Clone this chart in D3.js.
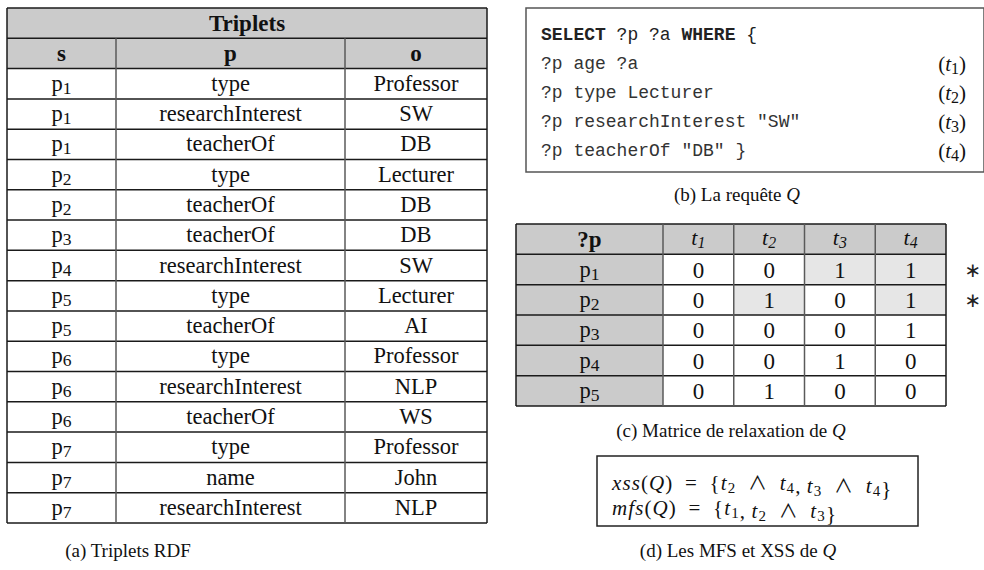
<!DOCTYPE html>
<html><head><meta charset="utf-8">
<script src="https://cdn.jsdelivr.net/npm/d3@7"></script>
<style>html,body{margin:0;padding:0;background:#fff;}svg{display:block;}</style>
</head><body>
<script>
// ---------- DATA ----------
const tripletColumns = ["s", "p", "o"];
const tripletTitle = "Triplets";
const tripletS = ["p_1","p_1","p_1","p_2","p_2","p_3","p_4","p_5","p_5","p_6","p_6","p_6","p_7","p_7","p_7"];
const tripletP = ["type","researchInterest","teacherOf","type","teacherOf","teacherOf","researchInterest","type","teacherOf","type","researchInterest","teacherOf","type","name","researchInterest"];
const tripletO = ["Professor","SW","DB","Lecturer","DB","DB","SW","Lecturer","AI","Professor","NLP","WS","Professor","John","NLP"];

const queryCode = ["?p age ?a", "?p type Lecturer", "?p researchInterest \"SW\"", "?p teacherOf \"DB\" }"];
const queryLabels = ["t_1", "t_2", "t_3", "t_4"];

const matrixCols = ["t_1", "t_2", "t_3", "t_4"];
const matrixRows = ["p_1", "p_2", "p_3", "p_4", "p_5"];
const matrixValues = [
  [0, 0, 1, 1],
  [0, 1, 0, 1],
  [0, 0, 0, 1],
  [0, 0, 1, 0],
  [0, 1, 0, 0]
];
const matrixShaded = [
  [0, 0, 1, 1],
  [0, 1, 0, 1],
  [0, 0, 0, 0],
  [0, 0, 0, 0],
  [0, 0, 0, 0]
];
const matrixStars = [1, 1, 0, 0, 0];

const xssSets = [["t_2", "t_4"], ["t_3", "t_4"]];
const mfsSets = [["t_1"], ["t_2", "t_3"]];

const captions = ["(a) Triplets RDF", "(b) La requête ", "(c) Matrice de relaxation de ", "(d) Les MFS et XSS de "];

// ---------- DRAW ----------
const W = 984, H = 570;
const svg = d3.select("body").append("svg").attr("width", W).attr("height", H);
const SERIF = "'Liberation Serif','Times New Roman',serif";
const MONO = "'Liberation Mono','Courier New',monospace";
const GRAY = "#cbcbcb", LIGHT = "#e6e6e6";
const HLINE = "#1a1a1a", VLINE = "#5a5a5a";
const CELL = 22.5;
const SYM_FONT = "'Noto Sans CJK JP','DejaVu Sans',sans-serif";

function subText(sel, str, opts) {
  const size = opts.size || CELL;
  const t = sel.append("text")
    .attr("x", opts.x).attr("y", opts.y)
    .attr("text-anchor", opts.anchor || "middle")
    .attr("font-family", opts.family || SERIF)
    .attr("font-size", size)
    .attr("font-weight", opts.weight || "normal")
    .attr("font-style", opts.italic ? "italic" : "normal")
    .attr("fill", "#111");
  const parts = str.split(/(_\d)/);
  let shifted = false;
  const dy = opts.subDy || 4;
  parts.forEach(p => {
    if (!p) return;
    if (p.startsWith("_")) {
      t.append("tspan").text(p.slice(1)).attr("dy", dy)
        .attr("font-size", size * (opts.subScale || 0.72))
        .attr("font-style", opts.subItalic ? "italic" : "normal");
      shifted = true;
    } else {
      const ts = t.append("tspan").text(p);
      if (shifted) { ts.attr("dy", -dy); shifted = false; }
    }
  });
  return t;
}

// ---- (a) Triplets table ----
const A = svg.append("g");
const aRows = d3.scaleBand().domain(d3.range(tripletS.length + 2)).range([8, 523]);
const aColX = d3.scaleOrdinal().domain(tripletColumns).range([[7, 116], [116, 345], [345, 487]]);
const aX0 = 7, aX1 = 487;
A.append("rect").attr("x", aX0).attr("y", aRows(0)).attr("width", aX1 - aX0).attr("height", aRows.bandwidth() * 2).attr("fill", GRAY);
d3.range(tripletS.length + 3).forEach(i => {
  const y = i < tripletS.length + 2 ? aRows(i) : aRows.range()[1];
  A.append("line").attr("x1", aX0).attr("x2", aX1).attr("y1", y).attr("y2", y)
    .attr("stroke", HLINE).attr("stroke-width", 1.5);
});
[aX0, aX1].forEach(x => A.append("line").attr("x1", x).attr("x2", x).attr("y1", aRows(0)).attr("y2", aRows.range()[1]).attr("stroke", HLINE).attr("stroke-width", 1.5));
[aColX("s")[1], aColX("p")[1]].forEach(x => A.append("line").attr("x1", x).attr("x2", x).attr("y1", aRows(1)).attr("y2", aRows.range()[1]).attr("stroke", VLINE).attr("stroke-width", 1.5));
subText(A, tripletTitle, {x: (aX0 + aX1) / 2, y: aRows(0) + aRows.bandwidth() / 2 + 8, weight: "bold", size: 23});
tripletColumns.forEach(c => {
  const [l, r] = aColX(c);
  subText(A, c, {x: (l + r) / 2, y: aRows(1) + aRows.bandwidth() / 2 + 8, weight: "bold", size: 23});
});
const tripletData = [tripletS, tripletP, tripletO];
tripletS.forEach((_, i) => {
  tripletColumns.forEach((c, j) => {
    const [l, r] = aColX(c);
    subText(A, tripletData[j][i], {x: (l + r) / 2, y: aRows(i + 2) + aRows.bandwidth() / 2 + 7, subDy: 3, subScale: 0.78});
  });
});
subText(A, captions[0], {x: 128, y: 557, size: 19});

// ---- (b) Query box ----
const B = svg.append("g");
B.append("rect").attr("x", 526).attr("y", 8).attr("width", 458).attr("height", 164)
  .attr("fill", "none").attr("stroke", "#555").attr("stroke-width", 1.5);
const qRows = d3.scaleBand().domain(d3.range(queryCode.length + 1)).range([20, 165]);
const q0 = B.append("text").attr("x", 541).attr("y", qRows(0) + qRows.bandwidth() / 2 + 5)
  .attr("font-family", MONO).attr("font-size", 18).attr("fill", "#222");
q0.append("tspan").text("SELECT").attr("font-weight", "bold");
q0.append("tspan").text(" ?p ?a ");
q0.append("tspan").text("WHERE").attr("font-weight", "bold");
q0.append("tspan").text(" {");
queryCode.forEach((line, i) => {
  B.append("text").attr("x", 541).attr("y", qRows(i + 1) + qRows.bandwidth() / 2 + 5)
    .attr("font-family", MONO).attr("font-size", 18).attr("fill", "#333")
    .style("white-space", "pre").text(line);
  const t = B.append("text").attr("x", 966).attr("y", qRows(i + 1) + qRows.bandwidth() / 2 + 7)
    .attr("text-anchor", "end").attr("font-family", SERIF).attr("font-size", 21).attr("fill", "#111");
  t.append("tspan").text("(");
  t.append("tspan").text("t").attr("font-style", "italic");
  t.append("tspan").text(queryLabels[i].split("_")[1]).attr("font-size", 16).attr("dy", 3);
  t.append("tspan").text(")").attr("dy", -3);
});
{
  const t = B.append("text").attr("x", 737).attr("y", 201).attr("text-anchor", "middle")
    .attr("font-family", SERIF).attr("font-size", 19).attr("fill", "#111");
  t.append("tspan").text(captions[1]);
  t.append("tspan").text("Q").attr("font-style", "italic");
}

// ---- (c) Relaxation matrix ----
const C = svg.append("g");
const cRows = d3.scaleBand().domain(d3.range(matrixRows.length + 1)).range([224, 406]);
const cCols = d3.scaleBand().domain(matrixCols).range([663, 946]);
const cX0 = 516, cX1 = 946;
C.append("rect").attr("x", cX0).attr("y", cRows(0)).attr("width", cX1 - cX0).attr("height", cRows.bandwidth()).attr("fill", GRAY);
C.append("rect").attr("x", cX0).attr("y", cRows(0)).attr("width", cCols.range()[0] - cX0).attr("height", cRows.range()[1] - cRows(0)).attr("fill", GRAY);
matrixRows.forEach((r, i) => {
  matrixCols.forEach((c, j) => {
    if (matrixShaded[i][j]) C.append("rect").attr("x", cCols(c)).attr("y", cRows(i + 1))
      .attr("width", cCols.bandwidth()).attr("height", cRows.bandwidth()).attr("fill", LIGHT);
  });
});
d3.range(matrixRows.length + 2).forEach(i => {
  const y = i <= matrixRows.length ? cRows(i) : cRows.range()[1];
  C.append("line").attr("x1", cX0).attr("x2", cX1).attr("y1", y).attr("y2", y).attr("stroke", HLINE).attr("stroke-width", 1.5);
});
[cX0, cX1].forEach(x => C.append("line").attr("x1", x).attr("x2", x).attr("y1", cRows(0)).attr("y2", cRows.range()[1]).attr("stroke", HLINE).attr("stroke-width", 1.5));
matrixCols.forEach(c => C.append("line").attr("x1", cCols(c)).attr("x2", cCols(c)).attr("y1", cRows(0)).attr("y2", cRows.range()[1]).attr("stroke", VLINE).attr("stroke-width", 1.5));
subText(C, "?p", {x: (cX0 + cCols.range()[0]) / 2, y: cRows(0) + cRows.bandwidth() / 2 + 8, weight: "bold", size: 23});
matrixCols.forEach(c => subText(C, c, {x: cCols(c) + cCols.bandwidth() / 2, y: cRows(0) + cRows.bandwidth() / 2 + 6, italic: true, subItalic: true, size: 22, subDy: 3, subScale: 0.72}));
matrixRows.forEach((r, i) => {
  const yc = cRows(i + 1) + cRows.bandwidth() / 2;
  subText(C, r, {x: (cX0 + cCols.range()[0]) / 2, y: yc + 7, subDy: 3, subScale: 0.78});
  matrixCols.forEach((c, j) => subText(C, String(matrixValues[i][j]), {x: cCols(c) + cCols.bandwidth() / 2, y: yc + 8, size: 23}));
  if (matrixStars[i]) C.append("text").attr("x", 973).attr("y", yc + 7).attr("text-anchor", "middle")
    .attr("font-family", SYM_FONT).attr("font-size", 20).attr("fill", "#222").text("∗");
});
{
  const t = C.append("text").attr("x", 731).attr("y", 437).attr("text-anchor", "middle")
    .attr("font-family", SERIF).attr("font-size", 19).attr("fill", "#111");
  t.append("tspan").text(captions[2]);
  t.append("tspan").text("Q").attr("font-style", "italic");
}

// ---- (d) MFS / XSS box ----
const D = svg.append("g");
D.append("rect").attr("x", 597).attr("y", 456).attr("width", 321).attr("height", 70)
  .attr("fill", "none").attr("stroke", "#222").attr("stroke-width", 1.5);
function mathLine(y, name, items) {
  const t = D.append("text").attr("x", 612).attr("y", y).attr("font-family", SERIF).attr("font-size", 21).attr("fill", "#111")
    .style("white-space", "pre").attr("letter-spacing", 1.1);
  t.append("tspan").text(name).attr("font-style", "italic");
  t.append("tspan").text("(");
  t.append("tspan").text("Q").attr("font-style", "italic");
  t.append("tspan").text(")\u2002=\u2002{");
  items.forEach((it, k) => {
    it.forEach((term, m) => {
      t.append("tspan").text("t").attr("font-style", "italic");
      t.append("tspan").text(term.split("_")[1]).attr("font-size", 15).attr("dy", 3);
      if (m < it.length - 1) {
        t.append("tspan").text("\u2002").attr("dy", -3);
        t.append("tspan").text("∧").attr("font-family", SYM_FONT).attr("font-size", 19);
        t.append("tspan").text("\u2002");
      } else {
        t.append("tspan").text("").attr("dy", -3);
      }
    });
    if (k < items.length - 1) t.append("tspan").text(",\u2009");
  });
  t.append("tspan").text("}");
}
mathLine(490, "xss", xssSets);
mathLine(515, "mfs", mfsSets);
{
  const t = D.append("text").attr("x", 738).attr("y", 557).attr("text-anchor", "middle")
    .attr("font-family", SERIF).attr("font-size", 19).attr("fill", "#111");
  t.append("tspan").text(captions[3]);
  t.append("tspan").text("Q").attr("font-style", "italic");
}
</script>
</body></html>
